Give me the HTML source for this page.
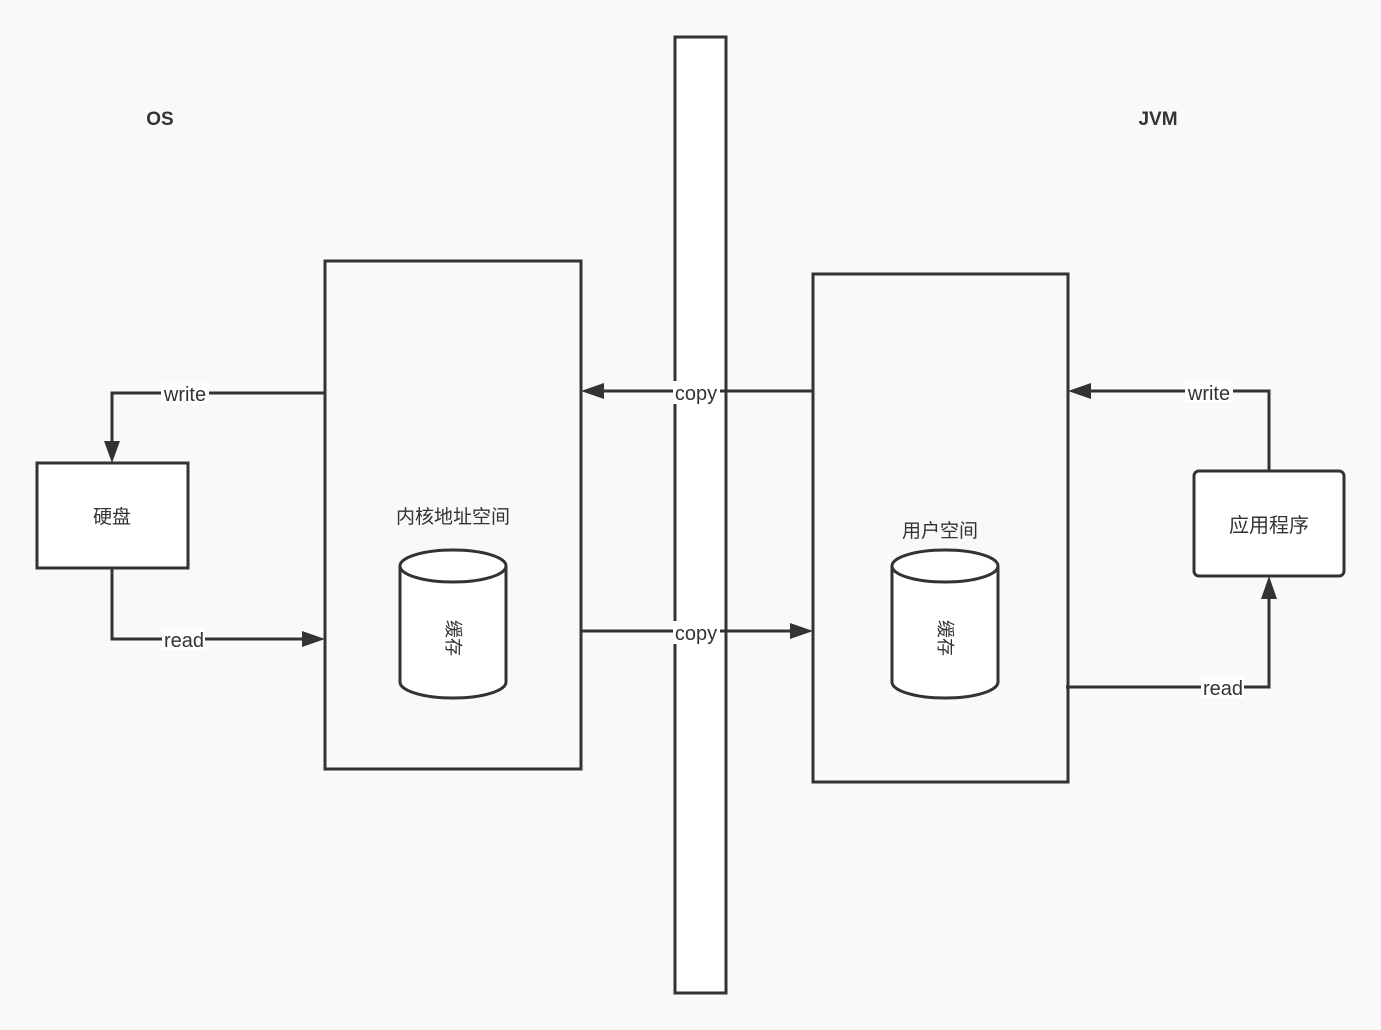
<!DOCTYPE html>
<html><head><meta charset="utf-8"><style>
html,body{margin:0;padding:0;background:#f9f9f9;}
svg{display:block;}
text{font-family:"Liberation Sans","Noto Sans CJK SC",sans-serif;fill:#333;}
</style></head><body>
<svg width="1381" height="1030" viewBox="0 0 1381 1030" xmlns="http://www.w3.org/2000/svg">
<rect x="0" y="0" width="1381" height="1030" fill="#f9f9f9"/>
<text x="160" y="125" font-size="19" font-weight="bold" text-anchor="middle">OS</text>
<text x="1158" y="125" font-size="19" font-weight="bold" text-anchor="middle">JVM</text>

<rect x="675" y="37" width="51" height="956" fill="#fff" stroke="#333" stroke-width="3"/>
<rect x="325" y="261" width="256" height="508" fill="#f9f9f9" stroke="#333" stroke-width="3"/>
<text x="453" y="523" font-size="19" text-anchor="middle">内核地址空间</text>
<rect x="813" y="274" width="255" height="508" fill="#f9f9f9" stroke="#333" stroke-width="3"/>
<text x="940" y="537" font-size="19" text-anchor="middle">用户空间</text>

<g stroke="#333" stroke-width="3" fill="#fff">
<path d="M400 566 L400 682 A53 16 0 0 0 506 682 L506 566 A53 16 0 0 0 400 566 Z"/>
<path d="M400 566 A53 16 0 0 0 506 566"/>
<path d="M892 566 L892 682 A53 16 0 0 0 998 682 L998 566 A53 16 0 0 0 892 566 Z"/>
<path d="M892 566 A53 16 0 0 0 998 566"/>
</g>
<text x="453" y="638" font-size="18" text-anchor="middle" transform="rotate(90 453 638)" dy="6">缓存</text>
<text x="945" y="638" font-size="18" text-anchor="middle" transform="rotate(90 945 638)" dy="6">缓存</text>

<rect x="37" y="463" width="151" height="105" fill="#fff" stroke="#333" stroke-width="3"/>
<text x="112" y="523" font-size="19" text-anchor="middle">硬盘</text>
<rect x="1194" y="471" width="150" height="105" rx="5" fill="#fff" stroke="#333" stroke-width="3"/>
<text x="1269" y="532" font-size="20" text-anchor="middle">应用程序</text>

<g stroke="#333" stroke-width="3" fill="none">
<polyline points="325,393 112,393 112,445"/>
<polyline points="112,568 112,639 305,639"/>
<line x1="813" y1="391" x2="600" y2="391"/>
<line x1="581" y1="631" x2="793" y2="631"/>
<polyline points="1269,471 1269,391 1088,391"/>
<polyline points="1066,687 1269,687 1269,596"/>
</g>
<g fill="#333">
<polygon points="112,463 104,441 120,441"/>
<polygon points="325,639 302,631 302,647"/>
<polygon points="581,391 604,383 604,399"/>
<polygon points="813,631 790,623 790,639"/>
<polygon points="1068,391 1091,383 1091,399"/>
<polygon points="1269,576 1261,599 1277,599"/>
</g>

<g font-size="20">
<rect x="161" y="383" width="48" height="21" fill="#fff"/>
<text x="185" y="401" text-anchor="middle">write</text>
<rect x="162" y="629" width="43" height="21" fill="#fff"/>
<text x="184" y="647" text-anchor="middle">read</text>
<rect x="673" y="381" width="47" height="23" fill="#fff"/>
<text x="696" y="400" text-anchor="middle">copy</text>
<rect x="673" y="621" width="47" height="23" fill="#fff"/>
<text x="696" y="640" text-anchor="middle">copy</text>
<rect x="1185" y="381" width="48" height="21" fill="#fff"/>
<text x="1209" y="400" text-anchor="middle">write</text>
<rect x="1201" y="677" width="43" height="21" fill="#fff"/>
<text x="1223" y="695" text-anchor="middle">read</text>
</g>
</svg>
</body></html>
